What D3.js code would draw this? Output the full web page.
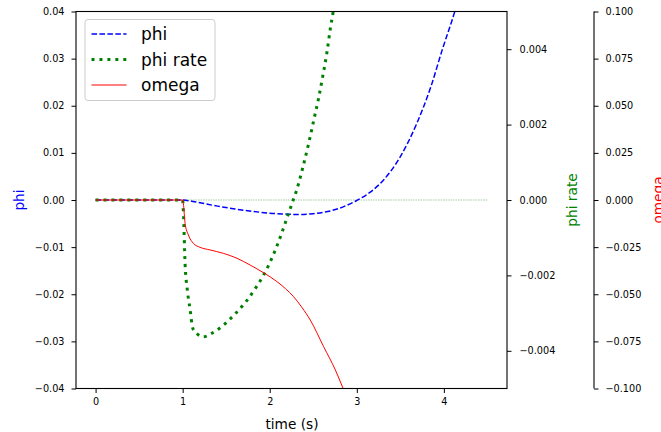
<html><head>
<meta charset="utf-8">
<script src="https://cdn.jsdelivr.net/npm/d3@7"></script>
<style>
  body { margin: 0; background: #fff; overflow: hidden; }
  text { font-family: "DejaVu Sans", sans-serif; }
</style>
</head>
<body>
<div id="chart"></div>
<script>

// values
var phiTime = [0, 1.0, 1.05, 1.2, 1.4, 1.6, 1.8, 2.0, 2.2, 2.35, 2.5, 2.7, 2.85, 3.0, 3.15, 3.3, 3.5, 3.69, 3.85, 3.98, 4.13, 4.3, 4.5];
var phiValues = [0, 0, -0.0001, -0.0006, -0.0013, -0.0019, -0.0024, -0.0028, -0.0030, -0.0031, -0.0029, -0.0023, -0.0014, -0.0001, 0.0016, 0.0041, 0.0092, 0.0163, 0.0240, 0.0318, 0.0403, 0.052, 0.068];

var rateTime = [0, 1.0, 1.008, 1.028, 1.054, 1.085, 1.116, 1.162, 1.238, 1.323, 1.468, 1.603, 1.718, 1.822, 1.922, 2.006, 2.101, 2.19, 2.255, 2.313, 2.382, 2.447, 2.504, 2.562, 2.612, 2.658, 2.696, 2.727, 2.8, 3.0];
var rateValues = [0, 0, -0.0003, -0.0017, -0.0024, -0.0029, -0.0034, -0.00354, -0.00363, -0.00355, -0.00332, -0.00302, -0.00272, -0.00239, -0.00202, -0.00164, -0.00111, -0.00053, -0.0001, 0.00029, 0.00088, 0.0015, 0.0021, 0.00271, 0.00332, 0.00393, 0.00455, 0.00497, 0.006, 0.0089];

var omegaTime = [0, 1.0, 1.008, 1.028, 1.066, 1.123, 1.2, 1.315, 1.468, 1.623, 1.775, 1.929, 2.083, 2.18, 2.274, 2.37, 2.466, 2.619, 2.754, 2.842, 3.0];
var omegaValues = [0, 0, -0.0018, -0.0124, -0.0186, -0.0230, -0.0251, -0.0265, -0.0283, -0.0309, -0.0345, -0.0386, -0.0433, -0.0470, -0.0513, -0.0570, -0.0637, -0.0778, -0.0902, -0.0999, -0.118];

// faint zero line on the phi rate axis
var zeroTime = [0, 4.5];
var zeroValues = [0, 0];

var timeTicks = [0, 1, 2, 3, 4];
var phiTicks = [-0.04, -0.03, -0.02, -0.01, 0, 0.01, 0.02, 0.03, 0.04];
var rateTicks = [-0.004, -0.002, 0, 0.002, 0.004];
var omegaTicks = [-0.1, -0.075, -0.05, -0.025, 0, 0.025, 0.05, 0.075, 0.1];

var legendNames = ["phi", "phi rate", "omega"];

var W = 661, H = 432;
var plotLeft = 76, plotRight = 507, plotTop = 11.5, plotBottom = 388.5;
var omegaX = 594;

var svg = d3.select("#chart").append("svg")
    .attr("width", W)
    .attr("height", H);

var x = d3.scaleLinear().domain([-0.225, 4.725]).range([plotLeft, plotRight]);
var yPhi = d3.scaleLinear().domain([-0.04, 0.04]).range([plotBottom, plotTop]);
var yRate = d3.scaleLinear().domain([-0.005, 0.005]).range([plotBottom, plotTop]);
var yOmega = d3.scaleLinear().domain([-0.1, 0.1]).range([plotBottom, plotTop]);

svg.append("clipPath").attr("id", "plotclip")
  .append("rect")
    .attr("x", plotLeft).attr("y", plotTop)
    .attr("width", plotRight - plotLeft).attr("height", plotBottom - plotTop);

var plot = svg.append("g").attr("clip-path", "url(#plotclip)");

function pts(ts, vs) {
  return ts.map(function(t, i) { return [t, vs[i]]; });
}

function lineFor(yScale) {
  return d3.line()
    .x(function(d) { return x(d[0]); })
    .y(function(d) { return yScale(d[1]); })
    .curve(d3.curveMonotoneX);
}

plot.append("path")
    .datum(pts(zeroTime, zeroValues))
    .attr("fill", "none")
    .attr("stroke", "green")
    .attr("stroke-opacity", 0.25)
    .attr("stroke-width", 1.5)
    .attr("stroke-dasharray", "1.5,1")
    .attr("d", lineFor(yRate));

plot.append("path")
    .datum(pts(phiTime, phiValues))
    .attr("fill", "none")
    .attr("stroke", "blue")
    .attr("stroke-width", 1.5)
    .attr("stroke-dasharray", "5.55,2.4")
    .attr("d", lineFor(yPhi));

plot.append("path")
    .datum(pts(rateTime, rateValues))
    .attr("fill", "none")
    .attr("stroke", "green")
    .attr("stroke-width", 3)
    .attr("stroke-dasharray", "3,4.95")
    .attr("d", lineFor(yRate));

plot.append("path")
    .datum(pts(omegaTime, omegaValues))
    .attr("fill", "none")
    .attr("stroke", "red")
    .attr("stroke-width", 1)
    .attr("d", lineFor(yOmega));

// axes
function styleAxis(g) {
  g.select(".domain").remove();
  g.selectAll(".tick line").attr("stroke", "#000").attr("stroke-width", 1);
  g.selectAll(".tick text").style("font-size", "9.7px").attr("fill", "#000")
    .style("font-family", "DejaVu Sans");
}

svg.append("g")
    .attr("transform", "translate(0," + plotBottom + ")")
    .call(d3.axisBottom(x).tickValues(timeTicks).tickFormat(d3.format("d"))
      .tickSize(4.5).tickPadding(5))
    .call(styleAxis);

svg.append("g")
    .attr("transform", "translate(" + plotLeft + ",0)")
    .call(d3.axisLeft(yPhi).tickValues(phiTicks).tickFormat(d3.format(".2f"))
      .tickSize(4.5).tickPadding(7))
    .call(styleAxis);

svg.append("g")
    .attr("transform", "translate(" + plotRight + ",0)")
    .call(d3.axisRight(yRate).tickValues(rateTicks).tickFormat(d3.format(".3f"))
      .tickSize(4.5).tickPadding(8))
    .call(styleAxis);

svg.append("g")
    .attr("transform", "translate(" + omegaX + ",0)")
    .call(d3.axisRight(yOmega).tickValues(omegaTicks).tickFormat(d3.format(".3f"))
      .tickSize(4.5).tickPadding(7))
    .call(styleAxis);

// spines
svg.append("rect")
    .attr("x", plotLeft).attr("y", plotTop)
    .attr("width", plotRight - plotLeft).attr("height", plotBottom - plotTop)
    .attr("fill", "none").attr("stroke", "#000").attr("stroke-width", 1.1);

svg.append("line")
    .attr("x1", omegaX).attr("x2", omegaX)
    .attr("y1", plotTop).attr("y2", plotBottom)
    .attr("stroke", "#000").attr("stroke-width", 1.1);

// axis labels
svg.append("text")
    .attr("x", (plotLeft + plotRight) / 2 + 0.5).attr("y", 429)
    .attr("text-anchor", "middle")
    .style("font-size", "13.7px")
    .text("time (s)");

svg.append("text")
    .attr("transform", "translate(24," + yPhi(0) + ") rotate(-90)")
    .attr("text-anchor", "middle")
    .attr("fill", "blue")
    .style("font-size", "13.7px")
    .text("phi");

svg.append("text")
    .attr("transform", "translate(577," + yRate(0) + ") rotate(-90)")
    .attr("text-anchor", "middle")
    .attr("fill", "green")
    .style("font-size", "13.7px")
    .text("phi rate");

// the reference cuts this label at the right edge of the figure
svg.append("text")
    .attr("transform", "translate(662.5," + yOmega(0) + ") rotate(-90)")
    .attr("text-anchor", "middle")
    .attr("fill", "red")
    .style("font-size", "13.7px")
    .text("omega");

// legend
var legend = svg.append("g");
legend.append("rect")
    .attr("x", 85).attr("y", 19.5)
    .attr("width", 130).attr("height", 81)
    .attr("rx", 3)
    .attr("fill", "#fff").attr("fill-opacity", 0.8)
    .attr("stroke", "#ccc").attr("stroke-width", 1);

var legendStyles = [
  {color: "blue", width: 1.5, dash: "5.55,2.4"},
  {color: "green", width: 3, dash: "3,4.95"},
  {color: "red", width: 1, dash: null}
];

legendNames.forEach(function(name, i) {
  var yy = 34 + i * 25.5;
  var s = legendStyles[i];
  legend.append("line")
      .attr("x1", 91.5).attr("x2", 126.5)
      .attr("y1", yy).attr("y2", yy)
      .attr("stroke", s.color)
      .attr("stroke-width", s.width)
      .attr("stroke-dasharray", s.dash);
  legend.append("text")
      .attr("x", 141).attr("y", yy + 6)
      .style("font-size", "17px")
      .text(name);
});

</script>
</body></html>
